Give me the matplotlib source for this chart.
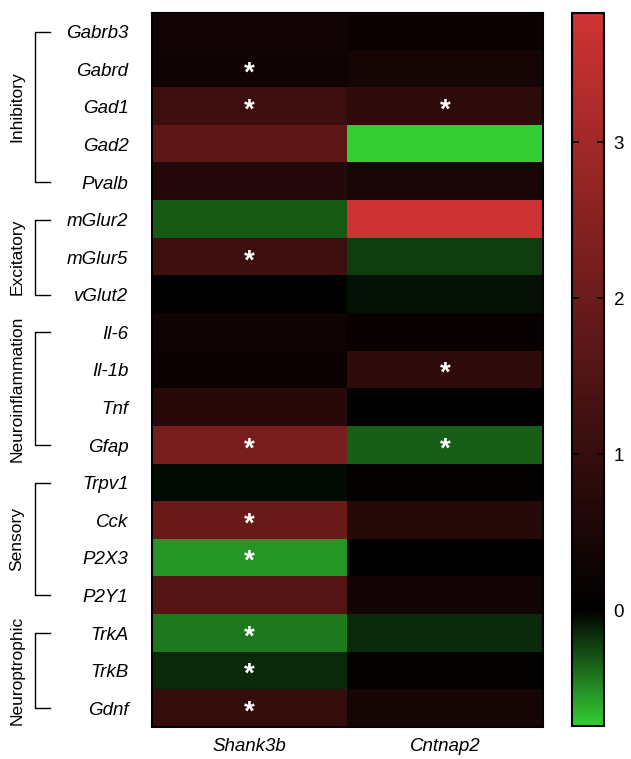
import numpy as np
import matplotlib
matplotlib.use('Agg')
import matplotlib.pyplot as plt
from matplotlib.colors import LinearSegmentedColormap
import matplotlib.transforms as mtransforms

plt.rcParams['font.family'] = ['Liberation Sans', 'DejaVu Sans']

# data
genes = ['Gabrb3', 'Gabrd', 'Gad1', 'Gad2', 'Pvalb',
         'mGlur2', 'mGlur5', 'vGlut2',
         'Il-6', 'Il-1b', 'Tnf', 'Gfap',
         'Trpv1', 'Cck', 'P2X3', 'P2Y1',
         'TrkA', 'TrkB', 'Gdnf']
models = ['Shank3b', 'Cntnap2']

shank3b = [0.34, 0.28, 1.12, 1.72, 0.65,
           -0.32, 1.12, 0.0,
           0.28, 0.19, 0.75, 2.24,
           -0.04, 2.0, -0.54, 1.53,
           -0.43, -0.14, 0.97]
cntnap2 = [0.22, 0.41, 0.84, -0.74, 0.47,
           3.82, -0.22, -0.05,
           0.15, 0.9, 0.0, -0.34,
           0.09, 0.71, 0.04, 0.34,
           -0.14, 0.09, 0.41]

sig_shank3b = ['Gabrd', 'Gad1', 'mGlur5', 'Gfap', 'Cck', 'P2X3', 'TrkA', 'TrkB', 'Gdnf']
sig_cntnap2 = ['Gad1', 'Il-1b', 'Gfap']

groups = [('Inhibitory', 'Gabrb3', 'Pvalb'),
          ('Excitatory', 'mGlur2', 'vGlut2'),
          ('Neuroinflammation', 'Il-6', 'Gfap'),
          ('Sensory', 'Trpv1', 'P2Y1'),
          ('Neuroptrophic', 'TrkA', 'Gdnf')]

vmin, vmax = -0.74, 3.83

data = np.column_stack([shank3b, cntnap2])

zero_pos = (0 - vmin) / (vmax - vmin)
cmap = LinearSegmentedColormap.from_list(
    'gbr', [(0, (0.2, 0.8, 0.2)), (zero_pos, (0, 0, 0)), (1, (0.81, 0.2, 0.2))])

fig = plt.figure(figsize=(6.31, 7.59), dpi=100)
ax = fig.add_axes([0.2409, 0.0422, 0.6196, 0.9408])
im = ax.imshow(data, cmap=cmap, vmin=vmin, vmax=vmax, aspect='auto',
               interpolation='nearest')

ax.set_yticks(range(len(genes)))
ax.set_yticklabels(genes, fontsize=13.5, style='italic')
ax.set_xticks(range(len(models)))
ax.set_xticklabels(models, fontsize=13.5, style='italic')
ax.tick_params(length=0)
ax.tick_params(axis='y', pad=17)
ax.tick_params(axis='x', pad=8)
for sp in ax.spines.values():
    sp.set_linewidth(1.5)

# significance stars
star_tr = mtransforms.offset_copy(ax.transData, fig=fig, x=0, y=-3, units='points')
for j, sig in enumerate([sig_shank3b, sig_cntnap2]):
    for g in sig:
        ax.text(j, genes.index(g), '*', color='white', fontsize=20, fontweight='bold',
                ha='center', va='center', transform=star_tr)

# group brackets
br = mtransforms.blended_transform_factory(ax.transAxes, ax.transData)
for name, g0, g1 in groups:
    y0, y1 = genes.index(g0), genes.index(g1)
    ax.plot([-0.261, -0.299, -0.299, -0.261], [y0, y0, y1, y1], color='black',
            lw=1, transform=br, clip_on=False)
    ax.text(-0.345, (y0 + y1) / 2, name, rotation=90, fontsize=12.5,
            ha='center', va='center', transform=br)

# colorbar
cax = fig.add_axes([0.9065, 0.0435, 0.0507, 0.9395])
cb = fig.colorbar(im, cax=cax, ticks=[0, 1, 2, 3])
cb.outline.set_linewidth(1.5)
cax.tick_params(labelsize=13.5, direction='in', length=5, width=1.2,
                left=True, right=True, pad=7)

fig.savefig('out.png', dpi=100)
